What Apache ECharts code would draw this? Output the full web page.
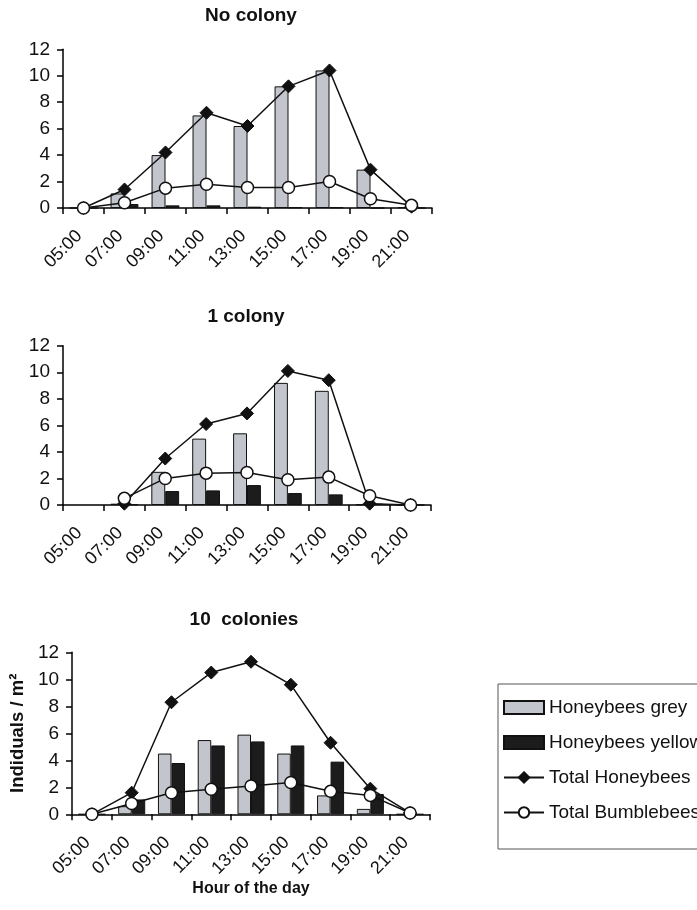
<!DOCTYPE html>
<html>
<head>
<meta charset="utf-8">
<script src="https://cdn.jsdelivr.net/npm/echarts@6/dist/echarts.min.js"></script>
<style>
html,body{margin:0;padding:0;background:#fff;}
#chart{width:697px;height:910px;}
</style>
</head>
<body>
<div id="chart"></div>
<script>
var hours = ['05:00','07:00','09:00','11:00','13:00','15:00','17:00','19:00','21:00'];
var panelTitles = ['No colony', '1 colony', '10  colonies'];
var yTicks = [0, 2, 4, 6, 8, 10, 12];

// No colony
var grey0   = [0, 1.1, 4.0, 7.0, 6.2, 9.2, 10.4, 2.9, 0.05];
var yellow0 = [0, 0.3, 0.2, 0.2, 0.1, 0.05, 0.05, 0, 0];
var totalHB0 = [0, 1.4, 4.2, 7.2, 6.2, 9.2, 10.4, 2.9, 0.1];
var totalBB0 = [0, 0.4, 1.5, 1.8, 1.55, 1.55, 2.0, 0.7, 0.2];

// 1 colony
var grey1   = [null, 0.1, 2.5, 5.0, 5.4, 9.2, 8.6, 0.05, 0];
var yellow1 = [null, 0.05, 1.05, 1.1, 1.5, 0.9, 0.8, 0.1, 0];
var totalHB1 = [null, 0.1, 3.5, 6.1, 6.9, 10.1, 9.4, 0.1, 0];
var totalBB1 = [null, 0.5, 2.0, 2.4, 2.45, 1.9, 2.1, 0.7, 0];

// 10 colonies
var grey2   = [0, 0.6, 4.5, 5.5, 5.9, 4.5, 1.4, 0.4, 0];
var yellow2 = [0, 1.1, 3.8, 5.1, 5.4, 5.1, 3.9, 1.5, 0];
var totalHB2 = [0, 1.6, 8.3, 10.5, 11.3, 9.6, 5.3, 1.9, 0.1];
var totalBB2 = [0, 0.8, 1.6, 1.85, 2.1, 2.35, 1.7, 1.4, 0.1];

var greyData = [grey0, grey1, grey2];
var yellowData = [yellow0, yellow1, yellow2];
var totalHBData = [totalHB0, totalHB1, totalHB2];
var totalBBData = [totalBB0, totalBB1, totalBB2];

var FONT = '"Liberation Sans", Arial, sans-serif';
var grids = [
  {left: 63, width: 369, top: 49.3, height: 158.7},
  {left: 63, width: 368, top: 345.7, height: 159.3},
  {left: 70, width: 360, top: 652.3, height: 162}
];
var titlePos = [[251, 6], [246, 307], [244, 610]];

var xAxes = [], yAxes = [], series = [], titles = [];
for (var i = 0; i < 3; i++) {
  titles.push({
    text: panelTitles[i], left: titlePos[i][0], top: titlePos[i][1], textAlign: 'center', padding: 0,
    textStyle: {fontFamily: FONT, fontSize: 19, fontWeight: 'bold', color: '#111'}
  });
  xAxes.push({
    type: 'category', gridIndex: i, data: hours, boundaryGap: true,
    axisLine: {lineStyle: {color: '#000', width: 1.5}},
    axisTick: {show: true, length: 6, lineStyle: {color: '#000', width: 1.5}, alignWithLabel: false},
    axisLabel: {rotate: 45, margin: 21, padding: [0, 6, 0, 0], fontFamily: FONT, fontSize: 18, color: '#111', interval: 0},
    name: i === 2 ? 'Hour of the day' : '',
    nameLocation: 'middle', nameGap: 62,
    nameTextStyle: {fontFamily: FONT, fontSize: 16, fontWeight: 'bold', color: '#111'}
  });
  yAxes.push({
    type: 'value', gridIndex: i, min: 0, max: 12, interval: 2,
    axisLine: {show: true, lineStyle: {color: '#000', width: 1.5}},
    axisTick: {show: true, length: 6, lineStyle: {color: '#000', width: 1.5}},
    splitLine: {show: false},
    axisLabel: {fontFamily: FONT, fontSize: 19, color: '#111', margin: 13},
    name: i === 2 ? 'Indiduals / m²' : '',
    nameLocation: 'middle', nameGap: 42, nameRotate: 90,
    nameTextStyle: {fontFamily: FONT, fontSize: 18.5, fontWeight: 'bold', color: '#111'}
  });
  series.push({
    name: 'Honeybees grey', type: 'bar', xAxisIndex: i, yAxisIndex: i, data: greyData[i],
    barGap: '0%', barCategoryGap: '32%',
    itemStyle: {color: '#c3c5cd', borderColor: '#111', borderWidth: 1}
  });
  series.push({
    name: 'Honeybees yellow', type: 'bar', xAxisIndex: i, yAxisIndex: i, data: yellowData[i],
    barGap: '0%', barCategoryGap: '32%',
    itemStyle: {color: '#1c1c1c', borderColor: '#111', borderWidth: 1}
  });
  series.push({
    name: 'Total Honeybees', type: 'line', xAxisIndex: i, yAxisIndex: i, data: totalHBData[i],
    symbol: 'diamond', symbolSize: 13, showSymbol: true, connectNulls: false,
    lineStyle: {color: '#111', width: 1.5},
    itemStyle: {color: '#111', borderColor: '#111', borderWidth: 1}
  });
  series.push({
    name: 'Total Bumblebees', type: 'line', xAxisIndex: i, yAxisIndex: i, data: totalBBData[i],
    symbol: 'circle', symbolSize: 12, showSymbol: true,
    lineStyle: {color: '#111', width: 1.5},
    itemStyle: {color: '#fff', borderColor: '#111', borderWidth: 1.5}
  });
}

var chart = echarts.init(document.getElementById('chart'), null, {renderer: 'canvas'});
chart.setOption({
  animation: false,
  backgroundColor: '#fff',
  title: titles,
  grid: grids,
  xAxis: xAxes,
  yAxis: yAxes,
  series: series,
  legend: {
    orient: 'vertical', left: 498, top: 684,
    padding: [14, 20, 27, 5], itemGap: 16, itemWidth: 40, itemHeight: 13,
    borderColor: '#555', borderWidth: 1, borderRadius: 0,
    textStyle: {fontFamily: FONT, fontSize: 19, color: '#111'},
    data: [
      {name: 'Honeybees grey', icon: 'rect'},
      {name: 'Honeybees yellow', icon: 'rect'},
      {name: 'Total Honeybees'},
      {name: 'Total Bumblebees'}
    ]
  }
});
</script>
</body>
</html>
